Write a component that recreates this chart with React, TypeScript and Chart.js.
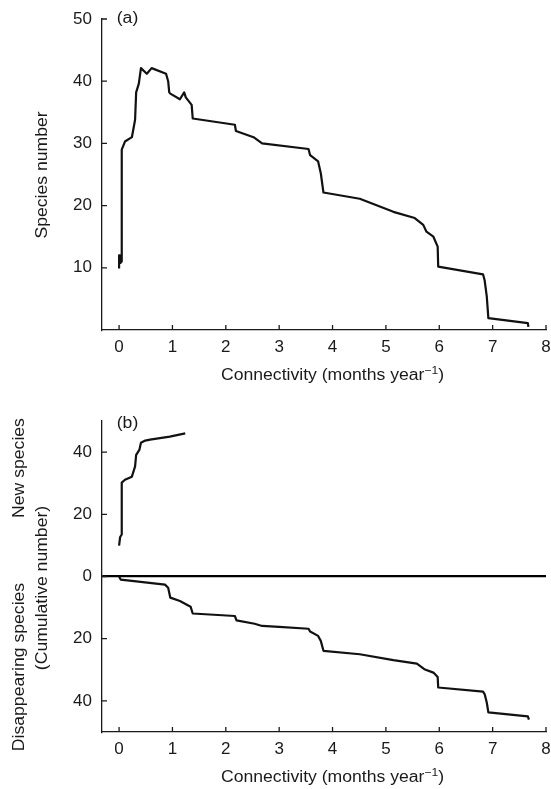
import React, { useEffect, useRef } from "react";
import { Chart, registerables } from "chart.js";
Chart.register(...registerables);

const FONT = '"Liberation Sans", Arial, Helvetica, sans-serif';
const INK = "#1a1a1a";

// shared x axis
const X_TICKS = [0, 1, 2, 3, 4, 5, 6, 7, 8];
const X_MIN = -0.32;
const X_MAX = 8;

// panel (a): species number vs connectivity
const A_Y_TICKS = [10, 20, 30, 40, 50];
const speciesX = [0, 0, 0.02, 0.03, 0.04, 0.05, 0.11, 0.24, 0.3, 0.32, 0.37, 0.41, 0.52, 0.61, 0.88, 0.92, 0.94, 0.96, 1.14, 1.22, 1.25, 1.36, 1.38, 2.17, 2.19, 2.52, 2.68, 3.55, 3.58, 3.73, 3.78, 3.83, 4.51, 5.14, 5.54, 5.7, 5.76, 5.89, 5.97, 5.98, 6.82, 6.85, 6.89, 6.92, 7.66, 7.67];
const speciesY = [9.9, 12, 12, 10.8, 11, 29, 30.3, 31, 33.8, 38.2, 39.6, 42.1, 41.2, 42.1, 41.2, 40, 38.2, 38, 37.1, 38.2, 37.4, 36.2, 34, 33, 32, 31, 30, 29.1, 28.1, 27.1, 25.2, 22.1, 21.1, 19, 18, 16.9, 15.8, 15, 13.4, 10.2, 8.95, 8, 5.4, 1.9, 1.1, 0.5];

// panel (b): cumulative new / disappearing species
const B_Y_TICKS = [-40, -20, 0, 20, 40];
const newX = [0, 0.02, 0.05, 0.05, 0.11, 0.24, 0.3, 0.32, 0.38, 0.41, 0.49, 0.58, 0.95, 1.24];
const newY = [9.9, 12.7, 13.5, 30.2, 31.1, 32.1, 35.4, 39.1, 40.7, 43, 43.7, 44, 45, 46];
const lostX = [0, 0.03, 0.86, 0.92, 0.96, 1.14, 1.34, 1.38, 2.17, 2.2, 2.54, 2.68, 3.0, 3.55, 3.58, 3.73, 3.78, 3.83, 4.51, 5.14, 5.58, 5.72, 5.89, 5.97, 5.98, 6.82, 6.85, 6.89, 6.92, 7.66, 7.68];
const lostY = [0, 1, 2.6, 3.6, 6.8, 7.9, 9.7, 11.9, 12.7, 14.1, 15.2, 15.9, 16.2, 16.8, 17.7, 19.1, 20.7, 23.9, 25, 26.9, 28, 29.8, 30.9, 32.3, 35.7, 37, 37.8, 40.5, 43.7, 45, 46];

const X_TITLE = "Connectivity (months year";
const X_TITLE_SUP = "\u22121";
const X_TITLE_END = ")";

const STRETCH = 1.1;

function drawText(ctx: CanvasRenderingContext2D, text: string, x: number, y: number, rot: number, size: number) {
  ctx.save();
  ctx.translate(x, y);
  ctx.rotate(rot);
  ctx.scale(STRETCH, 1);
  ctx.font = `${size}px ${FONT}`;
  ctx.textAlign = "center";
  ctx.textBaseline = "alphabetic";
  ctx.fillStyle = INK;
  ctx.fillText(text, 0, 0);
  ctx.restore();
}

function drawXTitle(ctx: CanvasRenderingContext2D, cx: number, baseline: number) {
  ctx.save();
  ctx.fillStyle = INK;
  ctx.textBaseline = "alphabetic";
  ctx.textAlign = "left";
  const main = `16px ${FONT}`;
  const sup = `11px ${FONT}`;
  ctx.font = main;
  const w1 = ctx.measureText(X_TITLE).width;
  const w3 = ctx.measureText(X_TITLE_END).width;
  ctx.font = sup;
  const w2 = ctx.measureText(X_TITLE_SUP).width;
  const total = (w1 + w2 + w3) * STRETCH;
  ctx.translate(cx - total / 2, baseline);
  ctx.scale(STRETCH, 1);
  ctx.font = main;
  ctx.fillText(X_TITLE, 0, 0);
  ctx.font = sup;
  ctx.fillText(X_TITLE_SUP, w1, -6);
  ctx.font = main;
  ctx.fillText(X_TITLE_END, w1 + w2, 0);
  ctx.restore();
}

type Label = { text: string; x: number; y: number; rot: number };

function makeDecor(yTicks: number[], labels: Label[]) {
  return {
    id: "decor",
    afterDraw(chart: any) {
      const ctx: CanvasRenderingContext2D = chart.ctx;
      const xs = chart.scales.x;
      const ys = chart.scales.y;
      const { left, bottom } = chart.chartArea;
      ctx.save();
      ctx.strokeStyle = INK;
      ctx.lineWidth = 1.3;
      ctx.beginPath();
      for (const v of X_TICKS) {
        const px = xs.getPixelForValue(v);
        ctx.moveTo(px, bottom);
        ctx.lineTo(px, bottom - 5);
      }
      for (const v of yTicks) {
        const py = ys.getPixelForValue(v);
        ctx.moveTo(left, py);
        ctx.lineTo(left + 5, py);
      }
      ctx.stroke();
      ctx.restore();
      const cx = (xs.getPixelForValue(0) + xs.getPixelForValue(8)) / 2;
      drawXTitle(ctx, cx, bottom + 50);
      for (const l of labels) drawText(ctx, l.text, l.x, l.y, l.rot, 16);
    },
  };
}

function toPoints(xs: number[], ys: number[], sign = 1) {
  return xs.map((x, i) => ({ x, y: sign * ys[i] }));
}

function baseScales(yMin: number, yMax: number, yTicks: number[], yLabel: (v: number) => string, xHeight: number, zeroLine: boolean) {
  return {
    x: {
      type: "linear",
      min: X_MIN,
      max: X_MAX,
      afterBuildTicks: (s: any) => {
        s.ticks = X_TICKS.map((v) => ({ value: v }));
      },
      afterFit: (s: any) => {
        s.height = xHeight;
        s.paddingLeft = 0;
        s.paddingRight = 0;
      },
      border: { display: true, color: INK, width: 1.3 },
      grid: { display: true, drawOnChartArea: false, drawTicks: false },
      ticks: {
        padding: 7,
        color: INK,
        font: { family: FONT, size: 17 },
        maxRotation: 0,
        autoSkip: false,
        callback: (v: any) => String(v),
      },
    },
    y: {
      type: "linear",
      min: yMin,
      max: yMax,
      afterBuildTicks: (s: any) => {
        s.ticks = yTicks.map((v) => ({ value: v }));
      },
      afterFit: (s: any) => {
        s.width = 102;
        s.paddingTop = 0;
        s.paddingBottom = 0;
      },
      border: { display: true, color: INK, width: 1.3 },
      grid: {
        display: true,
        drawOnChartArea: zeroLine,
        drawTicks: false,
        lineWidth: 2.2,
        color: (c: any) => (zeroLine && c.tick && c.tick.value === 0 ? "#000" : "rgba(0,0,0,0)"),
      },
      ticks: {
        padding: 10,
        color: INK,
        font: { family: FONT, size: 17 },
        autoSkip: false,
        callback: (v: any) => yLabel(Number(v)),
      },
    },
  };
}

function lineDataset(data: { x: number; y: number }[]) {
  return {
    data,
    borderColor: "#111",
    borderWidth: 2.2,
    pointRadius: 0,
    fill: false,
    tension: 0,
    borderJoinStyle: "round",
    borderCapStyle: "butt",
  };
}

function PanelA() {
  const ref = useRef<HTMLCanvasElement>(null);
  useEffect(() => {
    const chart = new Chart(ref.current!, {
      type: "line",
      data: { datasets: [lineDataset(toPoints(speciesX, speciesY)) as any] },
      options: {
        responsive: false,
        animation: false,
        devicePixelRatio: 1,
        layout: { padding: { top: 19, right: 5, left: 0, bottom: 0 } },
        plugins: { legend: { display: false }, tooltip: { enabled: false } },
        scales: baseScales(0, 50, A_Y_TICKS, (v) => String(v), 60, false) as any,
      },
      plugins: [
        makeDecor(A_Y_TICKS, [
          { text: "(a)", x: 127.5, y: 22.5, rot: 0 },
          { text: "Species number", x: 46.5, y: 175, rot: -Math.PI / 2 },
        ]),
      ],
    });
    return () => chart.destroy();
  }, []);
  return <canvas ref={ref} width={551} height={390} style={{ position: "absolute", left: 0, top: 0, width: 551, height: 390 }} />;
}

function PanelB() {
  const ref = useRef<HTMLCanvasElement>(null);
  useEffect(() => {
    const chart = new Chart(ref.current!, {
      type: "line",
      data: {
        datasets: [lineDataset(toPoints(newX, newY)) as any, lineDataset(toPoints(lostX, lostY, -1)) as any],
      },
      options: {
        responsive: false,
        animation: false,
        devicePixelRatio: 1,
        layout: { padding: { top: 31, right: 5, left: 0, bottom: 0 } },
        plugins: { legend: { display: false }, tooltip: { enabled: false } },
        scales: baseScales(-50, 50, B_Y_TICKS, (v) => String(Math.abs(v)), 57, true) as any,
      },
      plugins: [
        makeDecor(B_Y_TICKS, [
          { text: "(b)", x: 127.5, y: 427.5 - 390, rot: 0 },
          { text: "New species", x: 23.5, y: 468 - 390, rot: -Math.PI / 2 },
          { text: "(Cumulative number)", x: 47, y: 588 - 390, rot: -Math.PI / 2 },
          { text: "Disappearing species", x: 23.5, y: 667 - 390, rot: -Math.PI / 2 },
        ]),
      ],
    });
    return () => chart.destroy();
  }, []);
  return <canvas ref={ref} width={551} height={399} style={{ position: "absolute", left: 0, top: 390, width: 551, height: 399 }} />;
}

export default function App() {
  return (
    <div style={{ position: "fixed", left: 0, top: 0, width: 551, height: 789, background: "#fff" }}>
      <PanelA />
      <PanelB />
    </div>
  );
}
